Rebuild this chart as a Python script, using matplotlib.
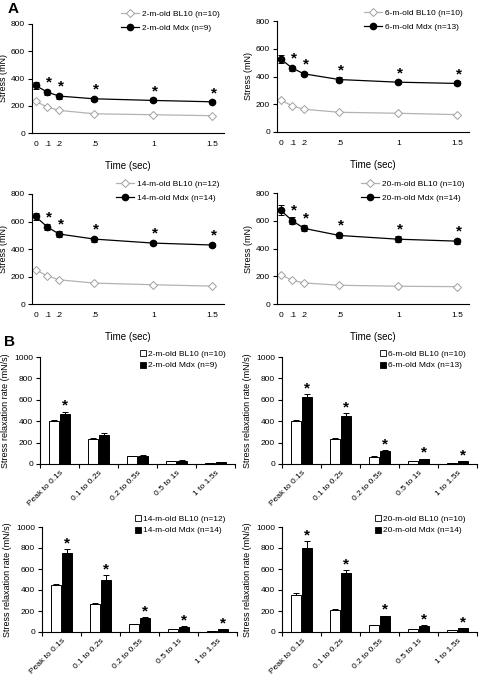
import matplotlib
matplotlib.use('Agg')
import matplotlib.pyplot as plt
from matplotlib.lines import Line2D
import numpy as np

plt.rcParams['font.family'] = ['Liberation Sans', 'DejaVu Sans']

W, H = 479, 676

# --- data -----------------------------------------------------------------
times = [0, 0.1, 0.2, 0.5, 1.0, 1.5]
time_labels = ['0', '.1', '.2', '.5', '1', '1.5']
ages = ['2', '6', '14', '20']
n_bl10 = [10, 10, 12, 10]
n_mdx = [9, 13, 14, 14]

# panel A: stress (mN)
stress_bl10 = [
    [234, 190, 166, 141, 134, 127],
    [231, 188, 164, 142, 135, 125],
    [248, 205, 176, 152, 140, 130],
    [212, 171, 152, 135, 128, 125],
]
stress_mdx = [
    [349, 300, 271, 251, 239, 229],
    [527, 460, 419, 378, 359, 350],
    [637, 560, 509, 472, 443, 429],
    [677, 600, 545, 494, 467, 453],
]
stress_mdx_err = [
    [25, 18, 18, 15, 15, 12],
    [28, 18, 16, 15, 15, 14],
    [25, 20, 22, 18, 16, 15],
    [35, 25, 22, 20, 20, 18],
]
stress_stars = [False, True, True, True, True, True]

# panel B: stress relaxation rate (mN/s)
intervals = ['Peak to 0.1s', '0.1 to 0.2s', '0.2 to 0.5s', '0.5 to 1s', '1 to 1.5s']
rate_bl10 = [
    [405, 234, 72, 25, 12],
    [402, 234, 68, 25, 12],
    [449, 271, 76, 25, 13],
    [356, 210, 63, 28, 15],
]
rate_bl10_err = [
    [5, 10, 3, 2, 1],
    [12, 10, 3, 2, 1],
    [12, 5, 3, 2, 1],
    [12, 5, 3, 2, 1],
]
rate_mdx = [
    [465, 274, 78, 30, 15],
    [626, 452, 125, 47, 25],
    [748, 500, 137, 51, 25],
    [800, 565, 149, 57, 35],
]
rate_mdx_err = [
    [25, 20, 5, 3, 2],
    [30, 20, 8, 4, 2],
    [45, 45, 8, 5, 3],
    [70, 25, 8, 5, 3],
]
rate_stars = [
    [True, False, False, False, False],
    [True, True, True, True, True],
    [True, True, True, True, True],
    [True, True, True, True, True],
]

fig = plt.figure(figsize=(W / 100, H / 100), dpi=100)
fig.patch.set_facecolor('white')


def px_axes(left, top, right, bottom):
    return fig.add_axes([left / W, 1 - bottom / H, (right - left) / W, (bottom - top) / H])


def style_axes(ax):
    for s in ['top', 'right']:
        ax.spines[s].set_visible(False)
    for s in ['left', 'bottom']:
        ax.spines[s].set_linewidth(0.8)
    ax.tick_params(axis='y', direction='out', length=3, width=0.8, labelsize=6, pad=2)


# --- panel A ----------------------------------------------------------------
a_boxes = [(32, 24, 224, 133), (277, 21, 469, 132), (32, 194, 224, 304), (277, 193, 469, 304)]
a_legend = [(121, 10), (364, 9), (116, 180), (361, 180)]

for i, box in enumerate(a_boxes):
    ax = px_axes(*box)
    style_axes(ax)
    ax.plot(times, stress_bl10[i], color='#b3b3b3', lw=0.9, marker='D', ms=4,
            mfc='white', mec='#a0a0a0', mew=0.7, zorder=2)
    ax.errorbar(times, stress_mdx[i], yerr=stress_mdx_err[i], color='black', lw=0.9,
                marker='o', ms=4.5, capsize=2, elinewidth=0.7, capthick=0.7, zorder=3)
    for t, v, e, s in zip(times, stress_mdx[i], stress_mdx_err[i], stress_stars):
        if s:
            ax.annotate('*', (t, v + e), xytext=(1, 0), textcoords='offset points',
                        ha='center', va='bottom', fontsize=11, fontweight='bold')
    ax.set_xlim(-0.03, 1.6)
    ax.set_ylim(0, 800)
    ax.set_yticks([0, 200, 400, 600, 800])
    ax.set_xticks(times)
    ax.set_xticklabels(time_labels)
    ax.tick_params(axis='x', length=0, labelsize=6, pad=6)
    ax.set_xlabel('Time (sec)', fontsize=7, labelpad=9)
    ax.set_ylabel('Stress (mN)', fontsize=6.5, labelpad=2)
    handles = [
        Line2D([], [], color='#b3b3b3', lw=0.9, marker='D', ms=4, mfc='white', mec='#a0a0a0', mew=0.7),
        Line2D([], [], color='black', lw=0.9, marker='o', ms=4.5),
    ]
    labels = ['%s-m-old BL10 (n=%d)' % (ages[i], n_bl10[i]),
              '%s-m-old Mdx (n=%d)' % (ages[i], n_mdx[i])]
    lx, ly = a_legend[i]
    ax.legend(handles, labels, loc='upper left', bbox_to_anchor=(lx / W, 1 - ly / H),
              bbox_transform=fig.transFigure, frameon=False, fontsize=6,
              handlelength=2.2, handletextpad=0.3, labelspacing=0.75,
              borderpad=0, borderaxespad=0)

# --- panel B ----------------------------------------------------------------
b_boxes = [(40, 357, 235, 464), (282, 357, 477, 464), (42, 527, 237, 632), (282, 527, 477, 632)]
b_legend = [(140, 350), (380, 350), (135, 515), (375, 515)]
xpos = np.arange(len(intervals))
bw = 0.25

for i, box in enumerate(b_boxes):
    ax = px_axes(*box)
    style_axes(ax)
    ax.bar(xpos - bw / 2 - 0.01, rate_bl10[i], bw, color='white', edgecolor='black', lw=0.7,
           yerr=[np.zeros(5), rate_bl10_err[i]], error_kw=dict(elinewidth=0.7, capsize=2, capthick=0.7))
    ax.bar(xpos + bw / 2 + 0.01, rate_mdx[i], bw, color='black', edgecolor='black', lw=0.7,
           yerr=[np.zeros(5), rate_mdx_err[i]], error_kw=dict(elinewidth=0.7, capsize=2, capthick=0.7))
    for x, v, e, s in zip(xpos, rate_mdx[i], rate_mdx_err[i], rate_stars[i]):
        if s:
            ax.annotate('*', (x + bw / 2 + 0.01, v + e), xytext=(0, -1), textcoords='offset points',
                        ha='center', va='bottom', fontsize=11, fontweight='bold')
    ax.set_xlim(-0.5, len(intervals) - 0.5)
    ax.set_ylim(0, 1000)
    ax.set_yticks([0, 200, 400, 600, 800, 1000])
    ax.set_xticks(np.arange(len(intervals) + 1) - 0.5)
    ax.set_xticklabels([])
    ax.tick_params(axis='x', which='major', direction='out', length=3, width=0.8)
    ax.set_xticks(xpos, minor=True)
    ax.set_xticklabels(intervals, minor=True, rotation=45, ha='right', rotation_mode='anchor')
    ax.tick_params(axis='x', which='minor', length=0, labelsize=6, pad=4)
    ax.set_ylabel('Stress relaxation rate (mN/s)', fontsize=6.5, labelpad=3)
    handles = [
        Line2D([], [], ls='none', marker='s', ms=4, mfc='white', mec='black', mew=0.6),
        Line2D([], [], ls='none', marker='s', ms=4, mfc='black', mec='black', mew=0.6),
    ]
    labels = ['%s-m-old BL10 (n=%d)' % (ages[i], n_bl10[i]),
              '%s-m-old Mdx (n=%d)' % (ages[i], n_mdx[i])]
    lx, ly = b_legend[i]
    ax.legend(handles, labels, loc='upper left', bbox_to_anchor=(lx / W, 1 - ly / H),
              bbox_transform=fig.transFigure, frameon=False, fontsize=6,
              handlelength=0.6, handletextpad=0.4, labelspacing=0.45,
              borderpad=0, borderaxespad=0)

fig.text(8 / W, 1 - 9 / H, 'A', fontsize=11, fontweight='bold', va='center', ha='left')
fig.text(4 / W, 1 - 342 / H, 'B', fontsize=11, fontweight='bold', va='center', ha='left')

fig.savefig('out.png', dpi=100, facecolor='white')
